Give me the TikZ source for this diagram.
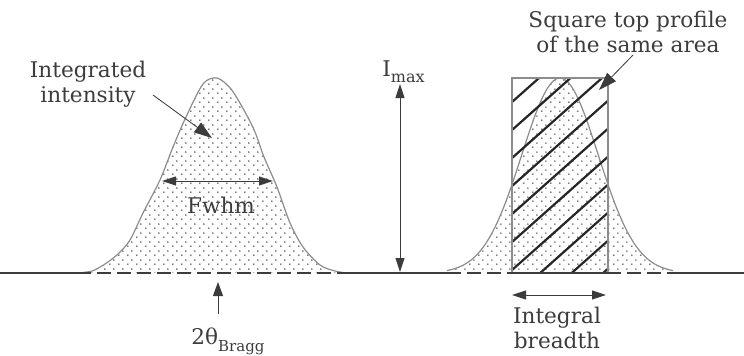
\documentclass[tikz,border=0pt]{standalone}
\usepackage{fontspec}
\setmainfont{DejaVu Serif}
\usepackage{tikz}
\usetikzlibrary{arrows.meta,patterns.meta}
\definecolor{InkGray}{RGB}{60,60,60}
\definecolor{DotGray}{RGB}{110,110,110}
\definecolor{EdgeGray}{RGB}{140,140,140}
\tikzdeclarepattern{
  name=sparsedots,
  type=uncolored,
  bounding box={(0pt,0pt) and (4.5pt,4.5pt)},
  tile size={(4.5pt,4.5pt)},
  code={
    \fill (1pt,1pt) circle (0.55pt);
    \fill (3.25pt,3.25pt) circle (0.55pt);
  }
}

\begin{document}
\begin{tikzpicture}[
  x=0.5pt, y=-0.5pt,
  txt/.style={font=\fontsize{10.8}{12.5}\selectfont, text=InkGray, inner sep=0pt, align=center},
  axisline/.style={draw=InkGray, line width=0.8pt},
  gapline/.style={axisline, dash pattern=on 7pt off 3pt},
  outline/.style={draw=EdgeGray, line width=0.6pt},
  dotfill/.style={pattern=sparsedots, pattern color=DotGray},
  hatch/.style={draw=black!85, line width=1.1pt},
  pointer/.style={-{Triangle[length=9pt,width=6pt]}, draw=InkGray, fill=InkGray, line width=0.4pt},
  arrow/.style={-{Triangle[length=7pt,width=5pt]}, draw=InkGray, line width=0.5pt},
  span/.style={{Triangle[length=7pt,width=4.5pt]}-{Triangle[length=7pt,width=4.5pt]}, draw=InkGray, line width=0.5pt}
]
\useasboundingbox (0,0) rectangle (744,355);

% measured peak
\fill[dotfill] plot[smooth, tension=0.5] coordinates {
  (77,273) (92,271) (105,264) (118,254) (130,240) (143,213) (160,180)
  (173,147) (186,117) (203,84) (217,78) (231,89) (245,112) (255,132)
  (264,157) (277,187) (290,223) (303,247) (320,265) (335,271) (347,273)} -- cycle;
\draw[outline] plot[smooth, tension=0.5] coordinates {
  (77,273) (92,271) (105,264) (118,254) (130,240) (143,213) (160,180)
  (173,147) (186,117) (203,84) (217,78) (231,89) (245,112) (255,132)
  (264,157) (277,187) (290,223) (303,247) (320,265) (335,271) (347,273)};

% gaussian peak and square top profile
\fill[dotfill] plot[domain=447:673, samples=90]
  (\x, {273-195*exp(-((\x-560)^2)/2918)}) -- cycle;
\draw[outline] plot[domain=447:673, samples=90]
  (\x, {273-195*exp(-((\x-560)^2)/2918)});
\begin{scope}
  \clip (512,78) rectangle (608,273);
  \foreach \c in {102,130,...,354}
    \draw[hatch] (500,{\c+10.7}) -- (620,{\c-96});
\end{scope}
\draw[outline] (512,78) rectangle (608,273);

% baseline
\draw[axisline] (0,273) -- (77,273);
\draw[gapline] (77,273) -- (347,273);
\draw[axisline] (347,273) -- (447,273);
\draw[gapline] (447,273) -- (673,273);
\draw[axisline] (512,273) -- (608,273);
\draw[axisline] (673,273) -- (744,273);

% labels
\node[txt] (intlabel) at (88,84) {Integrated\\intensity};
\node[txt] (fwhm) at (221,205) {Fwhm};
\node[txt, anchor=base west] (imax) at (382,76) {I\raisebox{-0.6ex}{\fontsize{8}{9}\selectfont max}};
\node[txt] (sqlabel) at (628,32) {Square top profile\\of the same area};
\node[txt] (breadth) at (557,328) {Integral\\breadth};
\node[txt] (bragg) at (228,341) {2θ\raisebox{-0.6ex}{\fontsize{7.5}{9}\selectfont Bragg}};

\coordinate (intfrom) at (153,95);
\coordinate (intto) at (212,138);
\coordinate (sqfrom) at (633,55);
\coordinate (sqto) at (599,90);
\coordinate (fwhmL) at (162,181);
\coordinate (fwhmR) at (273,181);
\coordinate (imaxtop) at (400,84);
\coordinate (imaxbot) at (400,272);
\coordinate (breadthL) at (512,295);
\coordinate (breadthR) at (606,295);
\coordinate (braggfrom) at (218,314);
\coordinate (braggto) at (218,282);

% connectors
\draw[pointer] (intfrom) -- (intto);
\draw[pointer] (sqfrom) -- (sqto);
\draw[span] (fwhmL) -- (fwhmR);
\draw[span] (imaxtop) -- (imaxbot);
\draw[span] (breadthL) -- (breadthR);
\draw[arrow] (braggfrom) -- (braggto);
\end{tikzpicture}
\end{document}
